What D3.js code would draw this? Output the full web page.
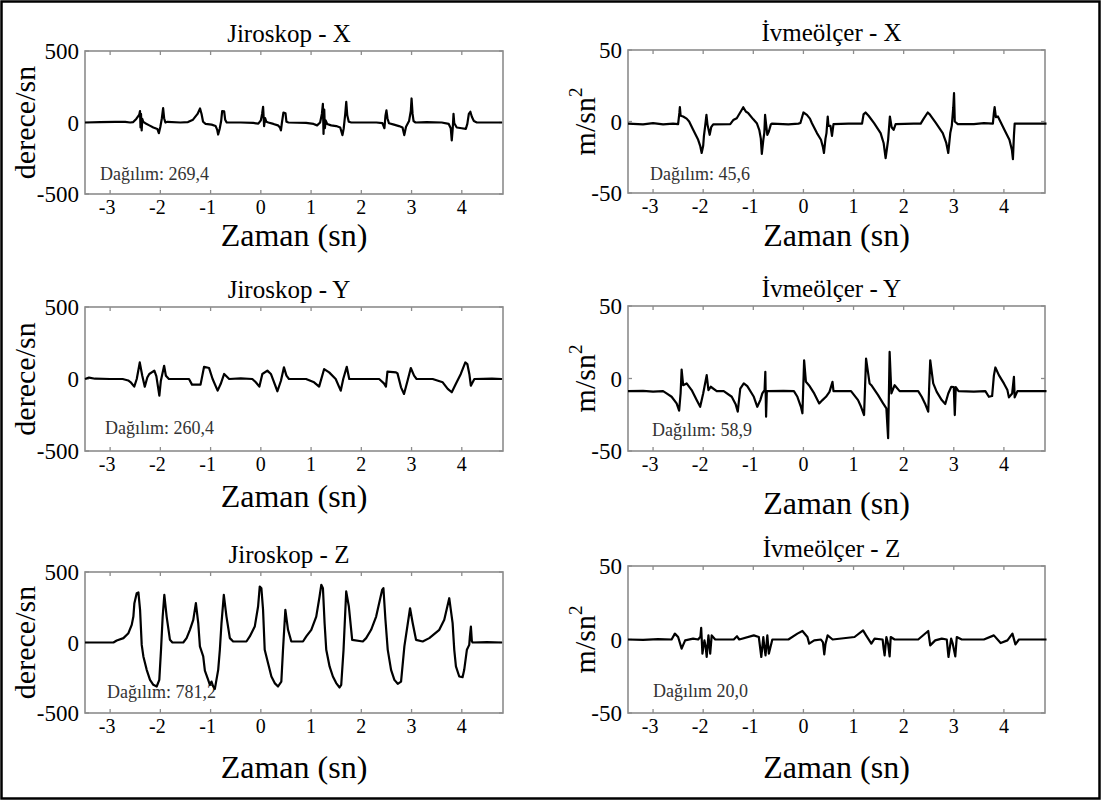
<!DOCTYPE html>
<html lang="tr">
<head>
<meta charset="utf-8">
<script src="https://cdn.jsdelivr.net/npm/d3@7"></script>
<style>
  body { margin: 0; background: #fff; }
  svg { display: block; }
  svg text, svg tspan { font-family: "Liberation Serif", "Times New Roman", Tinos, serif !important; }
</style>
</head>
<body>
<div id="chart"></div>
<script>
// tick labels
const timeTicks = [-3, -2, -1, 0, 1, 2, 3, 4];
const gyroTicks = [-500, 0, 500];
const accTicks = [-50, 0, 50];

const titles = ["Jiroskop - X", "İvmeölçer - X", "Jiroskop - Y", "İvmeölçer - Y", "Jiroskop - Z", "İvmeölçer - Z"];
const spreadLabels = ["Dağılım: 269,4", "Dağılım: 45,6", "Dağılım: 260,4", "Dağılım: 58,9", "Dağılım: 781,2", "Dağılım 20,0"];

// [time (sn), value]
const gyroX = [[-3.5,0],[-3.2,2],[-2.9,4],[-2.7,4],[-2.6,0],[-2.54,3],[-2.48,25],[-2.44,45],[-2.42,55],[-2.405,80],[-2.395,-35],[-2.385,60],[-2.372,-55],[-2.36,25],[-2.34,5],[-2.3,-5],[-2.22,-20],[-2.14,-35],[-2.06,-45],[-2.03,-75],[-2.0,-30],[-1.97,30],[-1.945,100],[-1.925,30],[-1.9,0],[-1.86,5],[-1.6,0],[-1.45,3],[-1.35,20],[-1.26,60],[-1.21,98],[-1.18,60],[-1.15,5],[-1.1,-10],[-0.98,-15],[-0.9,-25],[-0.87,-50],[-0.85,-84],[-0.82,-45],[-0.79,10],[-0.77,80],[-0.73,78],[-0.71,20],[-0.68,0],[-0.4,0],[-0.15,-3],[-0.05,-8],[0.0,15],[0.025,60],[0.045,110],[0.065,-25],[0.085,30],[0.11,5],[0.15,0],[0.25,-10],[0.34,-20],[0.38,-35],[0.4,-55],[0.42,0],[0.45,70],[0.49,65],[0.51,5],[0.55,0],[0.9,-3],[1.05,-10],[1.12,-20],[1.18,0],[1.215,60],[1.235,130],[1.248,-80],[1.262,90],[1.275,-40],[1.29,15],[1.32,-10],[1.4,-20],[1.5,-25],[1.58,-35],[1.625,-88],[1.65,-40],[1.68,60],[1.7,145],[1.72,50],[1.75,5],[1.8,0],[2.3,0],[2.42,-5],[2.46,-40],[2.48,45],[2.5,85],[2.52,30],[2.55,-5],[2.65,-15],[2.75,-25],[2.82,-35],[2.855,-88],[2.89,-30],[2.95,10],[2.985,80],[3.0,168],[3.02,60],[3.04,10],[3.08,0],[3.3,3],[3.6,0],[3.74,-10],[3.78,-40],[3.8,-125],[3.82,-40],[3.835,60],[3.85,-5],[3.9,-35],[4.0,-40],[4.08,-45],[4.11,-10],[4.14,60],[4.17,75],[4.2,40],[4.24,10],[4.3,0],[4.8,0]];

const accX = [[-3.5,-1.5],[-3.2,-2],[-3.0,-1.2],[-2.8,-2],[-2.6,-1.5],[-2.5,-1.8],[-2.475,6],[-2.465,10],[-2.45,4],[-2.4,3.5],[-2.33,2],[-2.28,0],[-2.2,-5.8],[-2.1,-12.8],[-2.06,-17],[-2.03,-22],[-2.0,-17],[-1.985,-10],[-1.96,-3],[-1.935,4.6],[-1.915,-2],[-1.87,-9.3],[-1.84,-4],[-1.8,-2],[-1.46,-1.8],[-1.4,1],[-1.33,2.3],[-1.25,7],[-1.2,10],[-1.15,7],[-1.1,5.8],[-1.0,1.5],[-0.93,-1.2],[-0.88,-6],[-0.85,-12],[-0.83,-22.6],[-0.8,-12.8],[-0.78,-8],[-0.765,4.6],[-0.745,-2],[-0.72,-9.3],[-0.69,-7],[-0.65,-2],[-0.63,-1.5],[-0.3,-2],[-0.1,-1.5],[-0.06,-1],[0.0,6.3],[0.07,4.6],[0.13,2],[0.17,-1.2],[0.27,-8.1],[0.35,-12.8],[0.39,-18],[0.41,-22],[0.44,-12],[0.46,-8.1],[0.485,3.5],[0.5,-3],[0.54,-3],[0.57,-10],[0.6,-1.8],[0.9,-1.5],[1.17,-1.5],[1.2,5],[1.24,6.3],[1.3,4],[1.41,-1.2],[1.54,-8.1],[1.6,-15],[1.64,-25.6],[1.67,-18],[1.69,-12.8],[1.725,3.5],[1.76,-4],[1.8,-5.8],[1.84,-1.8],[2.2,-1.5],[2.34,-1.5],[2.4,2],[2.48,6.3],[2.52,5],[2.645,-1.2],[2.78,-8.1],[2.85,-15],[2.89,-22],[2.93,-8.1],[2.96,-3],[2.99,10],[3.005,19.8],[3.02,0],[3.08,-1.8],[3.4,-1.8],[3.6,-1.2],[3.78,-1.5],[3.8,6],[3.815,10],[3.84,3],[3.88,3.5],[4.01,-5.8],[4.11,-12.8],[4.16,-20],[4.18,-26.3],[4.2,-10],[4.215,-1.5],[4.85,-1.5]];

const gyroY = [[-3.5,0],[-3.42,10],[-3.3,2],[-3.0,0],[-2.75,0],[-2.64,-10],[-2.59,-23],[-2.52,-53],[-2.47,0],[-2.41,115],[-2.36,23],[-2.31,-53],[-2.26,10],[-2.22,35],[-2.12,58],[-2.08,20],[-2.02,-115],[-1.99,-12],[-1.925,92],[-1.89,23],[-1.83,0],[-1.43,0],[-1.37,-39],[-1.2,-39],[-1.13,85],[-1.03,76],[-0.96,0],[-0.86,-81],[-0.8,-35],[-0.73,35],[-0.63,0],[-0.4,5],[-0.17,0],[-0.1,-23],[-0.03,-53],[0.03,35],[0.13,58],[0.2,35],[0.33,-85],[0.4,-12],[0.46,81],[0.51,23],[0.56,0],[0.9,0],[1.06,-23],[1.16,-53],[1.26,69],[1.36,46],[1.49,0],[1.59,-81],[1.64,0],[1.71,85],[1.76,0],[2.355,0],[2.45,-30],[2.49,-53],[2.52,51],[2.69,46],[2.72,39],[2.79,-58],[2.85,-104],[2.92,-12],[2.985,76],[3.05,23],[3.1,0],[3.42,0],[3.62,-23],[3.72,-69],[3.8,-92],[3.88,-35],[3.98,35],[4.07,115],[4.11,104],[4.15,35],[4.18,-46],[4.25,0],[4.6,3],[4.8,0]];

const accY = [[-3.5,-8.7],[-3.2,-8.5],[-3.0,-9],[-2.8,-8.7],[-2.73,-10.3],[-2.63,-12.6],[-2.53,-17.2],[-2.48,-22.2],[-2.45,-10],[-2.43,6.2],[-2.4,-4.6],[-2.33,-3.4],[-2.23,-8],[-2.13,-14.9],[-2.06,-19.5],[-2.0,-10.3],[-1.93,2.3],[-1.895,-8],[-1.85,-5.7],[-1.73,-8.7],[-1.59,-8.7],[-1.43,-12.6],[-1.35,-18],[-1.31,-22.9],[-1.26,-6.9],[-1.19,-3.4],[-1.12,-5.3],[-0.99,-12.6],[-0.92,-19.5],[-0.86,-14.9],[-0.82,-10.3],[-0.775,-8],[-0.76,4.6],[-0.745,-26.3],[-0.73,-8.7],[-0.69,-8.7],[-0.4,-8.5],[-0.19,-8.7],[-0.12,-12.6],[-0.05,-19.5],[-0.02,-24],[0.014,12.6],[0.05,-2.3],[0.11,-4.6],[0.215,-10.3],[0.315,-17.2],[0.38,-14.9],[0.45,-12.6],[0.52,-9.2],[0.58,-2.3],[0.6,-8.7],[0.65,-8.7],[0.95,-8.7],[1.09,-14.9],[1.15,-19.5],[1.21,-25.2],[1.25,13.7],[1.32,-3.4],[1.355,-4.6],[1.49,-11.5],[1.59,-17.2],[1.655,-20.6],[1.69,-41.2],[1.72,18.3],[1.755,-10.3],[1.82,-4.6],[1.92,-8.7],[2.29,-8.7],[2.36,-12.6],[2.425,-17.2],[2.49,-22.9],[2.53,12.6],[2.59,-3.4],[2.66,-9.2],[2.76,-14.9],[2.83,-17.6],[2.89,-10.3],[2.95,-5.7],[3.0,-6],[3.02,-25.2],[3.04,-6],[3.095,-8.7],[3.4,-9],[3.63,-8.7],[3.7,-12.6],[3.765,-12.1],[3.8,2],[3.83,7.6],[3.9,2.3],[4.0,-3.4],[4.07,-8],[4.1,-13],[4.165,-10.3],[4.2,1.1],[4.215,-13],[4.27,-8.7],[4.85,-8.7]];

const gyroZ = [[-3.5,0],[-3.2,0],[-2.934,0],[-2.868,14],[-2.735,31],[-2.636,66],[-2.57,125],[-2.537,184],[-2.517,279],[-2.471,350],[-2.437,355],[-2.404,232],[-2.371,-17],[-2.338,-99],[-2.272,-194],[-2.206,-265],[-2.14,-300],[-2.073,-312],[-2.021,-265],[-1.987,-52],[-1.954,184],[-1.921,338],[-1.875,184],[-1.809,19],[-1.76,0],[-1.544,0],[-1.478,31],[-1.412,90],[-1.345,161],[-1.293,279],[-1.246,137],[-1.213,-28],[-1.147,-99],[-1.114,-200],[-1.048,-265],[-1.015,-300],[-0.982,-277],[-0.948,-312],[-0.915,-329],[-0.849,-194],[-0.816,-52],[-0.783,137],[-0.737,338],[-0.684,184],[-0.617,31],[-0.551,7],[-0.287,7],[-0.22,43],[-0.121,113],[-0.055,255],[-0.022,397],[0.011,385],[0.044,232],[0.077,-52],[0.144,-147],[0.21,-241],[0.276,-288],[0.342,-312],[0.408,-277],[0.441,-52],[0.488,232],[0.541,90],[0.607,7],[0.839,7],[0.905,43],[1.004,90],[1.103,184],[1.169,326],[1.203,409],[1.236,385],[1.269,137],[1.302,-52],[1.368,-170],[1.434,-241],[1.5,-288],[1.567,-319],[1.6,-300],[1.646,-52],[1.699,362],[1.752,255],[1.818,19],[2.03,7],[2.096,31],[2.195,90],[2.295,184],[2.414,373],[2.44,385],[2.48,161],[2.526,-52],[2.592,-194],[2.658,-265],[2.725,-293],[2.791,-277],[2.857,-28],[2.97,243],[3.023,137],[3.089,19],[3.221,7],[3.353,31],[3.552,90],[3.651,161],[3.75,314],[3.817,137],[3.85,-52],[3.883,-170],[3.949,-241],[4.015,-246],[4.048,-194],[4.101,-52],[4.148,-17],[4.16,40],[4.181,113],[4.2,10],[4.214,0],[4.5,3],[4.8,0]];

const accZ = [[-3.5,0],[-3.2,-0.3],[-2.9,0.2],[-2.63,0],[-2.565,4],[-2.5,1.7],[-2.43,-6.2],[-2.36,-0.6],[-2.2,0.6],[-2.1,0],[-2.055,2],[-2.04,8],[-2.015,-9.6],[-1.975,-0.6],[-1.95,-5],[-1.93,-11.9],[-1.895,2.8],[-1.86,-9.6],[-1.83,2.8],[-1.76,0],[-1.39,0],[-1.325,2.2],[-1.28,0],[-0.99,2.8],[-0.89,1.7],[-0.84,-11.9],[-0.8,1.7],[-0.78,-5],[-0.756,-10.8],[-0.72,2.8],[-0.69,-9.6],[-0.62,0],[-0.3,0],[-0.12,4],[-0.02,5.8],[0.08,1.7],[0.115,-2.8],[0.215,-0.6],[0.35,0],[0.39,-2],[0.416,-10.1],[0.44,-3],[0.483,2.8],[0.583,0],[1.02,1.7],[1.19,6.2],[1.25,2.8],[1.355,-2.8],[1.42,0.6],[1.58,0],[1.6,-6],[1.62,-10.8],[1.655,1.7],[1.69,-3],[1.72,-11.5],[1.742,1.7],[1.82,0],[2.29,0],[2.49,5.8],[2.53,-4],[2.63,-0.6],[2.76,0.6],[2.86,0],[2.894,-11.9],[2.947,0.6],[2.98,-3],[3.03,-11.5],[3.06,1.7],[3.16,0],[3.6,0],[3.8,2.8],[3.935,-2.4],[4.07,-0.6],[4.17,4],[4.23,-3.3],[4.3,0],[4.85,0]];

const series = [gyroX, accX, gyroY, accY, gyroZ, accZ];

const W = 1103, H = 803;
const serif = '"Liberation Serif", "Times New Roman", Tinos, serif';

const svg = d3.select('#chart').append('svg')
    .attr('width', W)
    .attr('height', H);

svg.append('rect')
    .attr('x', 1.5).attr('y', 1.5)
    .attr('width', 1098).attr('height', 797)
    .attr('fill', 'none')
    .attr('stroke', '#000')
    .attr('stroke-width', 2.5);

// plot boxes: [left, top, right, bottom], label baselines
const layout = [
    { box: [85, 51, 503, 194], zamanY: 246, spreadXY: [100, 180] },
    { box: [628, 50, 1045, 193], zamanY: 246, spreadXY: [650, 180] },
    { box: [85, 307, 503, 451], zamanY: 507, spreadXY: [105, 434] },
    { box: [628, 306, 1045, 451], zamanY: 514, spreadXY: [652, 436] },
    { box: [85, 572, 503, 713], zamanY: 778, spreadXY: [107, 698] },
    { box: [628, 566, 1045, 713], zamanY: 778, spreadXY: [653, 697] }
];

layout.forEach((p, i) => {
    const [x0, y0, x1, y1] = p.box;
    const isGyro = i % 2 === 0;
    const yTicks = isGyro ? gyroTicks : accTicks;

    const x = d3.scaleLinear().domain([-3.5, 4.82]).range([x0, x1]);
    const y = d3.scaleLinear().domain([yTicks[0], yTicks[2]]).range([y1, y0]);

    const g = svg.append('g');
    const addText = size => g.append('text')
        .attr('font-size', size)
        .attr('font-family', serif)
        .style('font-family', serif, 'important');

    // frame
    g.append('rect')
        .attr('x', x0).attr('y', y0)
        .attr('width', x1 - x0).attr('height', y1 - y0)
        .attr('fill', 'none')
        .attr('stroke', '#8c8c8c')
        .attr('stroke-width', 1.6);

    // inner ticks on all four sides
    const tickLines = g.append('g')
        .attr('stroke', '#8c8c8c')
        .attr('stroke-width', 1.3);
    timeTicks.forEach(d => {
        tickLines.append('line').attr('x1', x(d)).attr('x2', x(d)).attr('y1', y1).attr('y2', y1 - 4);
        tickLines.append('line').attr('x1', x(d)).attr('x2', x(d)).attr('y1', y0).attr('y2', y0 + 4);
    });
    yTicks.forEach(d => {
        tickLines.append('line').attr('x1', x0).attr('x2', x0 + 4).attr('y1', y(d)).attr('y2', y(d));
        tickLines.append('line').attr('x1', x1).attr('x2', x1 - 4).attr('y1', y(d)).attr('y2', y(d));
    });

    // tick labels
    timeTicks.forEach(d => {
        addText(20)
            .attr('x', x(d) - (d < 0 ? 3 : 0))
            .attr('y', y1 + 20)
            .attr('text-anchor', 'middle')
            .text(d);
    });

    yTicks.forEach(d => {
        addText(23)
            .attr('x', x0 - 6)
            .attr('y', y(d))
            .attr('dy', '0.35em')
            .attr('text-anchor', 'end')
            .text(d);
    });

    // title
    addText(25)
        .attr('x', (x0 + x1) / 2 - 5)
        .attr('y', y0 - 9)
        .attr('text-anchor', 'middle')
        .text(titles[i]);

    // x label
    addText(32)
        .attr('x', (x0 + x1) / 2)
        .attr('y', p.zamanY)
        .attr('text-anchor', 'middle')
        .text('Zaman (sn)');

    // y label
    const ly = addText(30)
        .attr('transform', `translate(${isGyro ? x0 - 50 : x0 - 33},${y(0)}) rotate(-90)`)
        .attr('text-anchor', 'middle');
    if (isGyro) {
        ly.text('derece/sn');
    } else {
        ly.append('tspan').text('m/sn');
        ly.append('tspan').attr('font-size', 19).attr('dy', -13).text('2');
    }

    // spread note
    addText(18)
        .attr('x', p.spreadXY[0])
        .attr('y', p.spreadXY[1])
        .attr('fill', '#333')
        .text(spreadLabels[i]);

    // signal
    const line = d3.line()
        .x(d => x(d[0]))
        .y(d => y(d[1]));

    g.append('path')
        .datum(series[i])
        .attr('d', line)
        .attr('fill', 'none')
        .attr('stroke', '#000')
        .attr('stroke-width', 2.2)
        .attr('stroke-linejoin', 'round');
});
</script>
</body>
</html>
